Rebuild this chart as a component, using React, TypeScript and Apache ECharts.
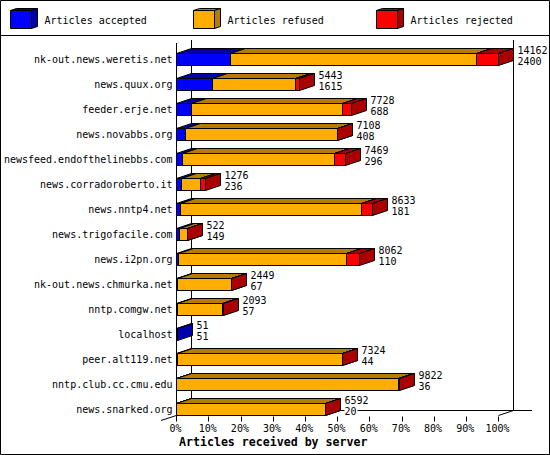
import React, { useEffect, useRef } from "react";
import * as echarts from "echarts";

const categories = [
  "nk-out.news.weretis.net", "news.quux.org", "feeder.erje.net", "news.novabbs.org",
  "newsfeed.endofthelinebbs.com", "news.corradoroberto.it", "news.nntp4.net", "news.trigofacile.com",
  "news.i2pn.org", "nk-out.news.chmurka.net", "nntp.comgw.net", "localhost",
  "peer.alt119.net", "nntp.club.cc.cmu.edu", "news.snarked.org",
];
const totals = [14162, 5443, 7728, 7108, 7469, 1276, 8633, 522, 8062, 2449, 2093, 51, 7324, 9822, 6592];
const accepted = [2400, 1615, 688, 408, 296, 236, 181, 149, 110, 67, 57, 51, 44, 36, 20];
const rejected = [926, 180, 400, 20, 480, 180, 470, 15, 560, 20, 60, 0, 20, 20, 20];
const refused = totals.map((t, i) => t - accepted[i] - rejected[i]);
const maxTotal = 14162;
const xTicks = maxTotal / 10;

const legendNames = ["Articles accepted", "Articles refused", "Articles rejected"];
const FRONT = ["#0000FF", "#FFAE00", "#FF0000"];
const DARK = ["#0000AA", "#B57C00", "#AA0000"];
const FONT = "'DejaVu Sans Mono', monospace";
const DX = 15;
const DY = 5;

function segmentSeries(idx: number, starts: number[], values: number[]) {
  return {
    type: "custom",
    coordinateSystem: "cartesian2d",
    silent: true,
    clip: false,
    encode: { x: [0, 1], y: 2 },
    data: values.map((v, i) => [starts[i], starts[i] + v, i]),
    renderItem: (_p: any, api: any) => {
      const a = api.value(0);
      const b = api.value(1);
      if (b <= a) return { type: "group", children: [] };
      const [x0, cy] = api.coord([a, api.value(2)]);
      const [x1] = api.coord([b, api.value(2)]);
      const xa = Math.floor(x0 - 0.5 + 0.01) + 0.5;
      const xb = Math.floor(x1 - 0.5 + 0.01) + 0.5;
      const top = cy - 5.5;
      const bot = cy + 6.5;
      const ln = { stroke: "#000", lineWidth: 1 };
      return {
        type: "group",
        children: [
          { type: "polygon", shape: { points: [[xa, top], [xa + DX, top - DY], [xb + DX, top - DY], [xb, top]] }, style: { fill: DARK[idx], ...ln } },
          { type: "polygon", shape: { points: [[xb, top], [xb + DX, top - DY], [xb + DX, bot - DY], [xb, bot]] }, style: { fill: DARK[idx], ...ln } },
          { type: "rect", shape: { x: xa, y: top, width: xb - xa, height: bot - top }, style: { fill: FRONT[idx], ...ln } },
        ],
      };
    },
  };
}

const labelSeries = {
  type: "custom",
  coordinateSystem: "cartesian2d",
  silent: true,
  clip: false,
  encode: { x: 0, y: 2 },
  z: 5,
  data: totals.map((t, i) => [t, accepted[i], i]),
  renderItem: (_p: any, api: any) => {
    const [x, cy] = api.coord([api.value(0), api.value(2)]);
    const tx = Math.floor(x - 0.5 + 0.01) + 0.5 + DX + 4;
    const mk = (txt: string, y: number) => ({
      type: "text",
      x: tx,
      y,
      style: {
        text: txt,
        fill: "#000",
        font: `10px ${FONT}`,
        align: "left",
        verticalAlign: "middle",
        backgroundColor: "#fff",
        padding: [0, 1, 0, 0],
      },
    });
    return {
      type: "group",
      children: [mk(String(api.value(0)), cy - 9), mk(String(api.value(1)), cy + 2)],
    };
  },
};

const frameLine = (x1: number, y1: number, x2: number, y2: number) => ({
  type: "line",
  shape: { x1, y1, x2, y2 },
  style: { stroke: "#000", lineWidth: 1 },
  silent: true,
});

const legendItem = (idx: number, x: number) => ({
  type: "group",
  silent: true,
  children: [
    { type: "polygon", shape: { points: [[x, 10.5], [x + 6, 8.5], [x + 27, 8.5], [x + 21, 10.5]] }, style: { fill: DARK[idx], stroke: "#000", lineWidth: 1 } },
    { type: "polygon", shape: { points: [[x + 21, 10.5], [x + 27, 8.5], [x + 27, 26.5], [x + 21, 28.5]] }, style: { fill: DARK[idx], stroke: "#000", lineWidth: 1 } },
    { type: "rect", shape: { x, y: 10.5, width: 21, height: 18 }, style: { fill: FRONT[idx], stroke: "#000", lineWidth: 1 } },
    { type: "text", x: x + 34, y: 20, style: { text: legendNames[idx], fill: "#000", font: `10px ${FONT}`, align: "left", verticalAlign: "middle" } },
  ],
});

export default function App() {
  const ref = useRef<HTMLDivElement>(null);
  useEffect(() => {
    const chart = echarts.init(ref.current!, undefined, { renderer: "svg" });
    const refusedStarts = accepted;
    const rejectedStarts = accepted.map((a, i) => a + refused[i]);
    chart.setOption({
      animation: false,
      backgroundColor: "#fff",
      title: {
        text: "Articles received by server",
        left: 179,
        top: 436,
        padding: 0,
        textStyle: { fontFamily: FONT, fontSize: 11.6, fontWeight: "bold", color: "#000", lineHeight: 12 },
      },
      grid: { left: 176.5, top: 46.5, width: 322, height: 375, containLabel: false },
      xAxis: {
        type: "value",
        min: 0,
        max: maxTotal,
        interval: xTicks,
        axisLine: { show: false },
        axisTick: { show: true, inside: true, length: 5, lineStyle: { color: "#000", width: 1 } },
        splitLine: { show: false },
        axisLabel: {
          margin: 2,
          padding: [0, 2, 0, 0],
          color: "#000",
          fontFamily: FONT,
          fontSize: 10,
          showMinLabel: true,
          showMaxLabel: true,
          hideOverlap: false,
          formatter: (v: number) => `${Math.round((v / maxTotal) * 100)}%`,
        },
      },
      yAxis: {
        type: "category",
        inverse: true,
        data: categories,
        axisLine: { show: false },
        axisTick: { show: false },
        axisLabel: { margin: 4, color: "#000", fontFamily: FONT, fontSize: 10, interval: 0 },
      },
      graphic: {
        elements: [
          { type: "rect", silent: true, shape: { x: 0.5, y: 0.5, width: 549, height: 454 }, style: { fill: "#fff", stroke: "#000", lineWidth: 1 }, z: -10 },
          frameLine(0, 35.5, 550, 35.5),
          frameLine(176.5, 43, 176.5, 421),
          frameLine(191.5, 40, 191.5, 411),
          frameLine(513.5, 40, 513.5, 411),
          frameLine(191.5, 410.5, 532, 410.5),
          frameLine(161, 420.5, 191.5, 410.5),
          frameLine(498.5, 415.5, 513.5, 410.5),
          legendItem(0, 10.5),
          legendItem(1, 193.5),
          legendItem(2, 376.5),
        ],
      },
      series: [
        segmentSeries(0, accepted.map(() => 0), accepted),
        segmentSeries(1, refusedStarts, refused),
        segmentSeries(2, rejectedStarts, rejected),
        labelSeries,
      ],
    });
    return () => chart.dispose();
  }, []);
  return <div ref={ref} style={{ position: "fixed", left: 0, top: 0, width: 550, height: 455 }} />;
}
